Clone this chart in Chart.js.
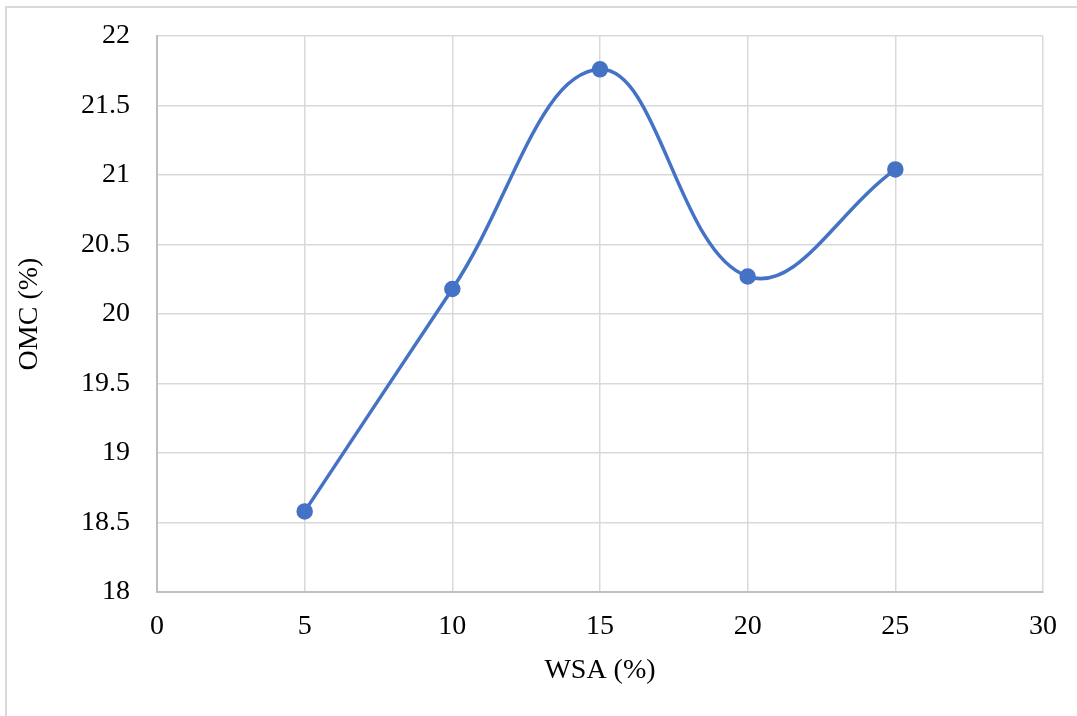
<!DOCTYPE html>
<html>
<head>
<meta charset="utf-8">
<title>OMC vs WSA</title>
<script src="https://cdn.jsdelivr.net/npm/chart.js@4"></script>
<style>
    body { margin: 0; background: #fff; }
    #wrap { position: relative; width: 1077px; height: 716px; }
    #frame { position: absolute; left: 5px; top: 6px; right: 0; bottom: 0;
             border-top: 2px solid #d9d9d9; border-left: 2px solid #d9d9d9; }
    #myChart { position: absolute; left: 0; top: 0; }
</style>
</head>
<body>
<div id="wrap">
    <div id="frame"></div>
    <canvas id="myChart" width="1077" height="716"></canvas>
</div>
<script>
// WSA content (%) and optimum moisture content (%)
const wsa = [5, 10, 15, 20, 25];
const omc = [18.58, 20.18, 21.76, 20.27, 21.04];

const xTicks = { min: 0, max: 30, step: 5 };
const yTicks = { min: 18, max: 22, step: 0.5 };

const fonte = { family: "'Liberation Serif', 'Times New Roman', serif", size: 28 };

let pontos = [];
for (let i = 0; i < wsa.length; i++) {
    pontos.push({ x: wsa[i], y: omc[i] });
}

const dataset = {
    datasets: [
        {
            data: pontos,
            showLine: true,
            borderColor: '#4472C4',
            backgroundColor: '#4472C4',
            borderWidth: 3.5,
            pointRadius: 6.5,
            pointHoverRadius: 6.5,
            tension: 0.4,
        }
    ]
};

// fixed box sizes so the plot area lands at the same place every time
function fixaEixo(tamanho) {
    return function(scale) {
        if (scale.isHorizontal()) {
            scale.height = tamanho;
        } else {
            scale.width = tamanho;
        }
        scale.paddingTop = 0;
        scale.paddingBottom = 0;
        scale.paddingLeft = 0;
        scale.paddingRight = 0;
    };
}

function createChart(chartId, dataset) {
    let ctx = document.getElementById(chartId).getContext('2d');
    const config = {
        type: 'scatter',
        data: dataset,
        options: {
            responsive: false,
            animation: false,
            layout: {
                padding: { left: 0, top: 36, right: 34, bottom: 0 }
            },
            plugins: {
                legend: { display: false },
                tooltip: { enabled: false }
            },
            scales: {
                x: {
                    type: 'linear',
                    min: xTicks.min,
                    max: xTicks.max,
                    afterFit: fixaEixo(124),
                    ticks: { stepSize: xTicks.step, color: '#000', font: fonte, padding: 18,
                             callback: (v) => String(v) },
                    grid: { color: '#d9d9d9', lineWidth: 1.5, drawTicks: false },
                    border: { color: '#bfbfbf', width: 2 },
                    title: { display: true, text: 'WSA (%)', color: '#000', font: fonte,
                             padding: { top: 0, bottom: 29 } }
                },
                y: {
                    type: 'linear',
                    min: yTicks.min,
                    max: yTicks.max,
                    afterFit: fixaEixo(157),
                    ticks: { stepSize: yTicks.step, color: '#000', font: fonte, padding: 27,
                             callback: (v) => String(v) },
                    grid: { color: '#d9d9d9', lineWidth: 1.5, drawTicks: false },
                    border: { color: '#bfbfbf', width: 2 },
                    title: { display: true, text: 'OMC (%)', color: '#000', font: fonte,
                             padding: { top: 13, bottom: 0 } }
                }
            }
        }
    };
    new Chart(ctx, config);
}

createChart('myChart', dataset);
</script>
</body>
</html>
